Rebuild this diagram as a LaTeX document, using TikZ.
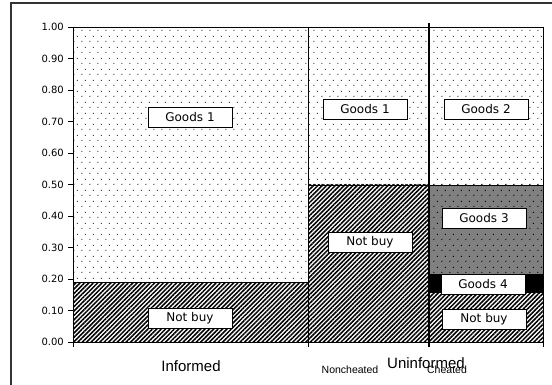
\documentclass[tikz,border=0pt]{standalone}
\usepackage{fontspec}
\setmainfont{Liberation Sans}
\newfontfamily\dejavu{DejaVu Sans}
\usetikzlibrary{patterns,patterns.meta,shadows}

% sparse staggered dot screen
\pgfdeclarepatternformonly{sparsedots}{\pgfqpoint{0pt}{0pt}}{\pgfqpoint{8pt}{11pt}}{\pgfqpoint{8pt}{11pt}}{%
  \pgfpathrectangle{\pgfqpoint{1.5pt}{2.25pt}}{\pgfqpoint{1.1pt}{1.1pt}}%
  \pgfpathrectangle{\pgfqpoint{5.5pt}{7.75pt}}{\pgfqpoint{1.1pt}{1.1pt}}%
  \pgfusepath{fill}}

\tikzset{
  dotfill/.style={pattern=sparsedots, pattern color=black!75},
  hatchfill/.style={pattern={Lines[angle=45,distance=3.1pt,line width=1.55pt]}, pattern color=black},
  segline/.style={draw=black, line width=0.8pt},
  lab/.style={draw=black, fill=white, line width=0.8pt, minimum width=84pt, minimum height=20pt,
    inner sep=0pt, font=\dejavu\fontsize{12}{12}\selectfont,
    drop shadow={shadow xshift=1pt, shadow yshift=-1pt, opacity=1, fill=black}},
  ticklab/.style={anchor=east, inner sep=0pt, font=\dejavu\fontsize{10}{10}\selectfont},
  catlab/.style={inner sep=0pt, font=\fontsize{15}{15}\selectfont},
  sublab/.style={inner sep=0pt, font=\fontsize{10.5}{10.5}\selectfont},
}

\begin{document}
\begin{tikzpicture}[x=1pt, y=-1pt]
  \useasboundingbox (0,0) rectangle (552,385);
  \fill[white] (0,0) rectangle (552,385);

  % outer chart frame
  \draw[black!80, line width=1.2pt] (11,3) rectangle (570,400);

  % Informed column
  \fill[white] (73,27) rectangle (308,282);
  \fill[dotfill] (73,27) rectangle (308,282);
  \fill[white] (73,282) rectangle (308,342);
  \fill[hatchfill] (73,282) rectangle (308,342);
  \draw[segline] (73,282) -- (308,282);

  % Uninformed, noncheated
  \fill[white] (308,27) rectangle (429,185);
  \fill[dotfill] (308,27) rectangle (429,185);
  \fill[white] (308,185) rectangle (429,342);
  \fill[hatchfill] (308,185) rectangle (429,342);
  \draw[segline] (308,185) -- (429,185);

  % Uninformed, cheated
  \fill[white] (429,27) rectangle (543,185);
  \fill[dotfill] (429,27) rectangle (543,185);
  \fill[black!50] (429,185) rectangle (543,274);
  \fill[pattern=sparsedots, pattern color=black] (429,185) rectangle (543,274);
  \fill[black] (429,274) rectangle (543,293);
  \fill[white] (429,293) rectangle (543,342);
  \fill[hatchfill] (429,293) rectangle (543,342);
  \draw[segline] (429,185) -- (543,185);

  % plot frame and axes
  \draw[segline] (73,27) rectangle (543,342);
  \draw[segline] (308,27) -- (308,347);
  \draw[black, line width=2pt] (429,23) -- (429,347);
  \foreach \x in {73,543} \draw[segline] (\x,342) -- (\x,347);

  % value axis
  \foreach \v/\t [count=\i] in {0/0.00,1/0.10,2/0.20,3/0.30,4/0.40,5/0.50,6/0.60,7/0.70,8/0.80,9/0.90,10/1.00} {
    \draw[segline] (68,{342-31.5*\v}) -- (73,{342-31.5*\v});
    \node[ticklab] (tick\i) at (64,{342-31.5*\v}) {\t};
  }

  % segment labels
  \node[lab] (goodsA) at (190,117) {Goods 1};
  \node[lab] (notbuyA) at (190,318) {Not buy};
  \node[lab] (goodsB) at (365,109) {Goods 1};
  \node[lab] (notbuyB) at (370,242) {Not buy};
  \node[lab] (goodsC) at (486,109) {Goods 2};
  \node[lab] (goodsD) at (484,218) {Goods 3};
  \node[lab] (goodsE) at (483,284) {Goods 4};
  \node[lab] (notbuyC) at (484,319) {Not buy};

  % category labels
  \node[catlab] (informed) at (191,366) {Informed};
  \node[sublab] (noncheated) at (350,370) {Noncheated};
  \node[sublab] (cheated) at (447,370) {Cheated};
  \node[catlab] (uninformed) at (426,363) {Uninformed};
\end{tikzpicture}
\end{document}
